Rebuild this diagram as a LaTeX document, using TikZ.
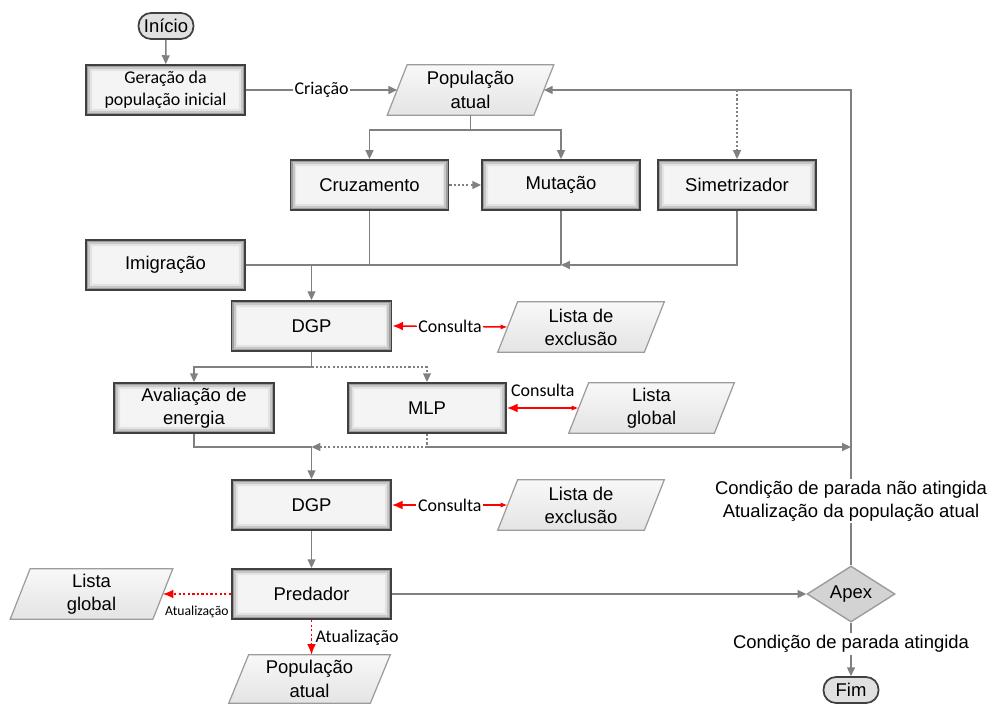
\documentclass[tikz,border=0pt]{standalone}
\usepackage{fontspec}
\setmainfont{Liberation Sans}
\newfontfamily\calfont{Carlito}
\usetikzlibrary{arrows.meta,shapes.geometric,backgrounds,calc}

\definecolor{linegray}{HTML}{808080}
\definecolor{boxedge}{HTML}{404040}
\definecolor{boxfill}{HTML}{F4F4F4}
\definecolor{pgtop}{HTML}{F8F8F8}
\definecolor{pgbottom}{HTML}{E4E4E4}
\definecolor{pgedge}{HTML}{9C9C9C}
\definecolor{apexfill}{HTML}{D3D3D3}
\definecolor{linkred}{HTML}{FF0000}

\tikzset{
  every node/.style={font=\fontsize{10.5}{13}\selectfont, align=center},
  calibri/.style={font=\calfont\fontsize{10.2}{12.5}\selectfont},
  smallcal/.style={font=\calfont\fontsize{7.8}{9}\selectfont},
  procbox/.style={rectangle, minimum width=3.16cm, minimum height=1cm,
    inner sep=1pt, fill=boxfill, draw=boxedge, line width=1.1pt,
    path picture={
      \foreach \d/\c in {1.0pt/black!38, 1.9pt/black!22, 2.8pt/black!11, 3.7pt/black!5}{
        \draw[\c, line width=1pt]
          ([shift={(\d,\d)}]path picture bounding box.south west) rectangle
          ([shift={(-\d,-\d)}]path picture bounding box.north east);
      }}},
  iobox/.style={rectangle, minimum width=2.92cm, minimum height=1cm, inner sep=1pt},
  pgramline/.style={draw=pgedge, line width=0.7pt, top color=pgtop, bottom color=pgbottom},
  terminal/.style={rectangle, rounded corners=0.25cm, minimum width=1.1cm,
    minimum height=0.52cm, inner sep=1pt, fill=black!12, draw=boxedge, line width=1pt},
  decision/.style={diamond, minimum width=1.76cm, minimum height=1.12cm, aspect=1.6,
    inner sep=0pt, fill=apexfill, draw=pgedge, line width=0.8pt},
  flow/.style={draw=linegray, line width=0.85pt},
  flowtip/.style={arrows=-{Triangle[length=5pt,width=4.5pt]}},
  dots/.style={dash pattern=on 1.2pt off 1.2pt},
  consult/.style={draw=linkred, line width=0.8pt,
    arrows={Latex[length=6pt,width=5pt]-Latex[length=4pt,width=3pt]}},
  update/.style={draw=linkred, line width=0.8pt, dash pattern=on 1.3pt off 1.3pt,
    arrows=-{Latex[length=6pt,width=5pt]}},
  note/.style={fill=white, inner sep=1pt}
}

\begin{document}
\begin{tikzpicture}[x=0.02cm,y=-0.02cm]
\useasboundingbox (0,0) rectangle (989,705);

% process blocks
\node[terminal] (start) at (166,26) {Início};
\node[procbox, minimum width=3.18cm, calibri] (gen) at (165.5,90) {Geração da\\população inicial};
\node[iobox, font=\fontsize{10.5}{14}\selectfont] (pop1) at (470.5,90) {População\\atual};
\node[procbox] (cruz) at (369.5,185) {Cruzamento};
\node[procbox] (mut) at (561,185) {Mutação};
\node[procbox] (sim) at (737,185) {Simetrizador};
\node[procbox, minimum width=3.18cm] (imig) at (165.5,265) {Imigração};
\node[procbox, minimum width=3.2cm] (dgp1) at (311.5,326) {DGP};
\node[iobox] (lex1) at (581,327) {Lista de\\exclusão};
\node[procbox, minimum width=3.2cm] (aval) at (194,408) {Avaliação de\\energia};
\node[procbox] (mlp) at (427,408) {MLP};
\node[iobox, minimum width=2.9cm] (lg1) at (651.5,408) {Lista\\global};
\node[procbox, minimum width=3.18cm] (dgp2) at (311.5,505) {DGP};
\node[iobox] (lex2) at (581,505) {Lista de\\exclusão};
\node[procbox, minimum width=3.18cm] (pred) at (311.5,594) {Predador};
\node[iobox, minimum width=2.84cm] (lg2) at (91.5,594) {Lista\\global};
\node[iobox, minimum width=2.82cm, minimum height=0.96cm, font=\fontsize{10.5}{14}\selectfont] (pop2) at (309.5,679) {População\\atual};
\node[decision] (apex) at (851,594) {Apex};
\node[terminal] (fim) at (851,690) {Fim};

% notes on the loop and exit branches
\node[note] (loopnote) at (851,501) {Condição de parada não atingida\\Atualização da população atual};
\node[note] (endnote) at (851,644) {Condição de parada atingida};

% parallelogram outlines of the data blocks
\begin{scope}[on background layer]
  \foreach \n in {pop1,lex1,lg1,lex2,lg2,pop2}{
    \draw[pgramline] ([xshift=-0.2cm]\n.south west) -- ([xshift=0.2cm]\n.north west)
      -- ([xshift=0.2cm]\n.north east) -- ([xshift=-0.2cm]\n.south east) -- cycle;
  }
\end{scope}

% creation of the population
\draw[flow, flowtip] (start) -- (gen);
\draw[flow, flowtip] (gen) -- node[note, calibri]{Criação} (pop1);

% genetic operators
\coordinate (split) at (470.5,130);
\draw[flow] (pop1) -- (split);
\draw[flow, flowtip] (split) -| (cruz.north);
\draw[flow, flowtip] (split) -| (mut.north);
\draw[flow, dots, flowtip] (sim.north |- pop1.east) -- (sim.north);
\draw[flow, dots, flowtip] (cruz) -- (mut);

% merge towards the first DGP
\draw[flow] (imig.east) -- (mut.south |- imig.east);
\draw[flow] (cruz.south) -- (cruz.south |- imig.east);
\draw[flow] (mut.south) -- (mut.south |- imig.east);
\draw[flow, flowtip] (sim.south) |- (mut.south |- imig.east);
\draw[flow, flowtip] (dgp1.north |- imig.east) -- (dgp1.north);
\draw[consult] (dgp1.east) -- node[note, calibri]{Consulta} (lex1.west);

% energy evaluation and MLP
\coordinate (s1) at (311.5,367);
\draw[flow] (dgp1.south) -- (s1);
\draw[flow, flowtip] (s1) -| (aval.north);
\draw[flow, dots, flowtip] (s1) -| (mlp.north);
\draw[consult] (mlp.east) -- node[above=3pt, calibri]{Consulta} (lg1.west);

\coordinate (s2) at (311.5,447);
\draw[flow] (aval.south) |- (s2);
\draw[flow, dots, flowtip] (mlp.south) |- (s2);
\draw[flow, flowtip] (mlp.south |- s2) -- (loopnote.north |- s2);
\draw[flow, flowtip] (s2) -- (dgp2.north);

% second DGP and predator
\draw[consult] (dgp2.east) -- node[note, calibri]{Consulta} (lex2.west);
\draw[flow, flowtip] (dgp2.south) -- (pred.north);
\draw[update] (pred.west) -- node[below=3pt, smallcal]{Atualização} (lg2.east);
\draw[update] (pred.south) -- node[right, inner sep=2pt, calibri]{Atualização} (pred.south |- pop2.north);
\draw[flow, flowtip] (pred) -- (apex);

% stop test
\draw[flow] (apex.north) -- (loopnote.south);
\draw[flow, flowtip] (loopnote.north) |- (pop1.east);
\draw[flow] (apex.south) -- (endnote.north);
\draw[flow, flowtip] (endnote.south) -- (fim.north);
\end{tikzpicture}
\end{document}
